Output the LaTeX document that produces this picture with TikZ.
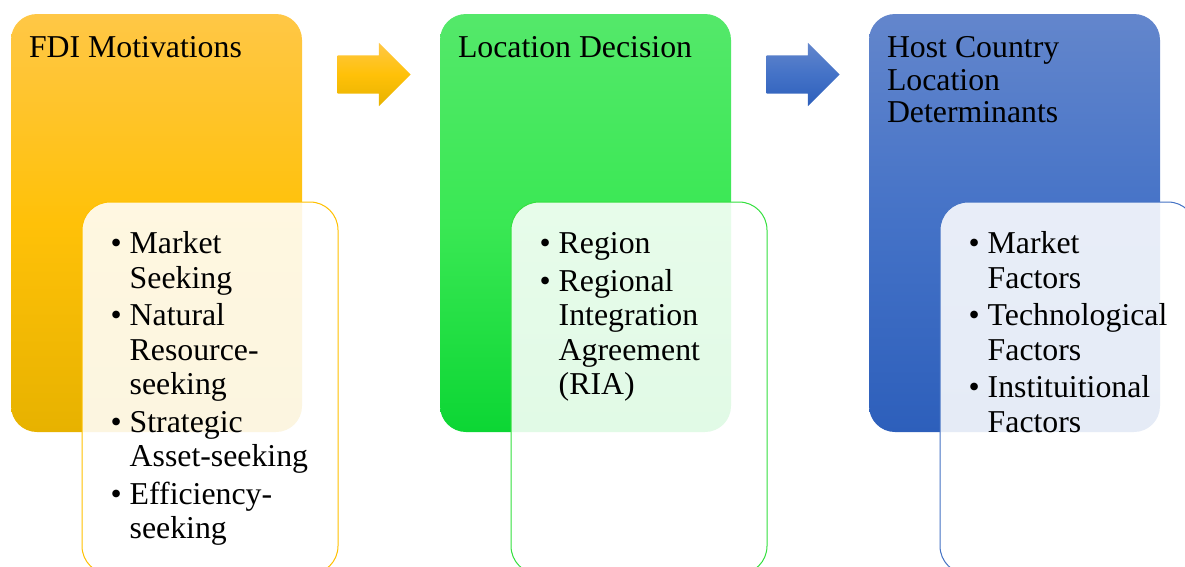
\documentclass[tikz,border=0pt]{standalone}
\usepackage{fontspec}
\setmainfont{Liberation Serif}
\usetikzlibrary{positioning, calc, shapes.arrows}

\definecolor{goldtop}{RGB}{255,199,70}
\definecolor{goldmid}{RGB}{255,193,8}
\definecolor{goldbot}{RGB}{231,178,0}
\definecolor{greentop}{RGB}{84,232,106}
\definecolor{greenmid}{RGB}{58,232,84}
\definecolor{greenbot}{RGB}{12,214,52}
\definecolor{bluetop}{RGB}{99,134,204}
\definecolor{bluemid}{RGB}{68,114,199}
\definecolor{bluebot}{RGB}{45,95,187}
\definecolor{goldline}{RGB}{255,192,0}
\definecolor{greenline}{RGB}{52,224,62}
\definecolor{blueline}{RGB}{68,114,196}

\newcommand{\bul}{\textbullet}

\begin{document}
\begin{tikzpicture}
[x=1pt,y=-1pt,node distance=429pt,on grid,
                    box/.style={rounded corners=26pt,minimum width=291pt,
                      minimum height=418pt,inner sep=0pt},
                    sub/.style={rounded corners=28pt,minimum width=256pt,
                      minimum height=372pt,inner sep=0pt,draw,line width=1pt,
                      fill=white,fill opacity=0.88},
                    head/.style={anchor=base west,inner sep=0pt,
                      font=\fontsize{31.8}{32.5}\selectfont},
                    list/.style={anchor=base west,inner sep=0pt,
                      font=\fontsize{31.8}{34.5}\selectfont},
                    blk/.style={single arrow,single arrow head extend=12.5pt,
                      minimum width=63pt,minimum height=73pt,inner sep=0pt}]
\useasboundingbox (0,0) rectangle (1185,566);
\clip (0,0) rectangle (1185,566);

% main boxes
\node[box, top color=goldtop, bottom color=goldbot, middle color=goldmid] (m1) at (156.5,223) {};
\node[box, right=of m1, top color=greentop, bottom color=greenbot, middle color=greenmid] (m2) {};
\node[box, right=of m2, top color=bluetop, bottom color=bluebot, middle color=bluemid] (m3) {};

\node[head] (t1) at ($(m1.north west)+(18,44)$) {\begin{tabular}[t]{@{}l@{}}FDI Motivations\end{tabular}};
\node[head] (t2) at ($(m2.north west)+(18,44)$) {\begin{tabular}[t]{@{}l@{}}Location Decision\end{tabular}};
\node[head] (t3) at ($(m3.north west)+(18,44)$) {\begin{tabular}[t]{@{}l@{}}Host Country\\Location\\Determinants\end{tabular}};

% lists
\node[sub, draw=goldline] (s1) at (210,388) {};
\node[sub, right=of s1, draw=greenline] (s2) {};
\node[sub, right=of s2, draw=blueline] (s3) {};

\node[list] (l1) at ($(s1.north west)+(29,52)$) {\begin{tabular}[t]{@{}p{19pt}@{}l@{}}
\bul & Market\\ & Seeking\\[3pt]
\bul & Natural\\ & Resource-\\ & seeking\\[3pt]
\bul & Strategic\\ & Asset-seeking\\[3pt]
\bul & Efficiency-\\ & seeking
\end{tabular}};
\node[list] (l2) at ($(s2.north west)+(29,52)$) {\begin{tabular}[t]{@{}p{19pt}@{}l@{}}
\bul & Region\\[3pt]
\bul & Regional\\ & Integration\\ & Agreement\\ & (RIA)
\end{tabular}};
\node[list] (l3) at ($(s3.north west)+(29,52)$) {\begin{tabular}[t]{@{}p{19pt}@{}l@{}}
\bul & Market\\ & Factors\\[3pt]
\bul & Technological\\ & Factors\\[3pt]
\bul & Instituitional\\ & Factors
\end{tabular}};

% block arrows
\node[blk, top color=goldtop, bottom color=goldbot, middle color=goldmid] (a1) at (364.5,74.5) {\rule{0pt}{38pt}};
\node[blk, right=of a1, top color=bluetop, bottom color=bluebot, middle color=bluemid] (a2) {\rule{0pt}{38pt}};
\end{tikzpicture}
\end{document}
